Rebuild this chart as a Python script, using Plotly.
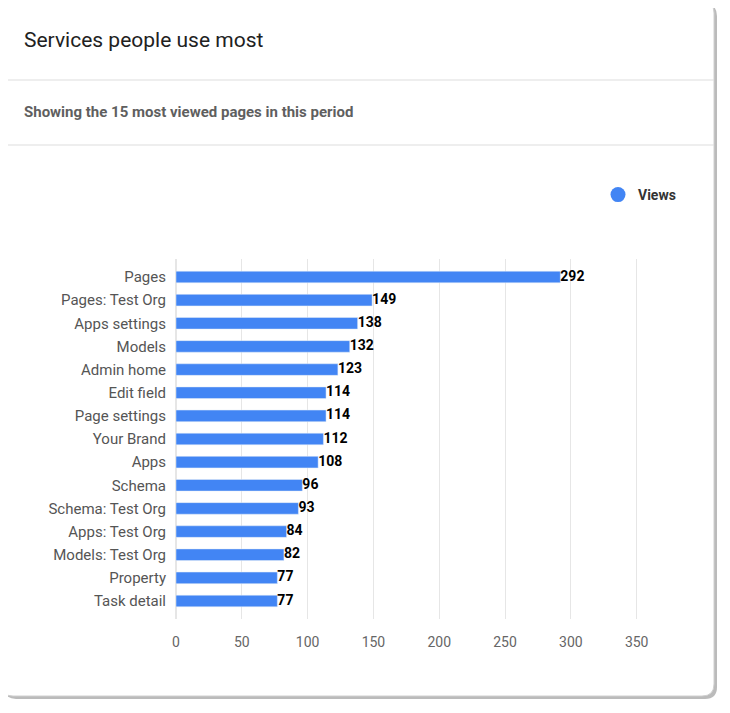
import plotly.graph_objects as go

pages = ["Pages", "Pages: Test Org", "Apps settings", "Models", "Admin home",
         "Edit field", "Page settings", "Your Brand", "Apps", "Schema",
         "Schema: Test Org", "Apps: Test Org", "Models: Test Org", "Property", "Task detail"]
views = [292, 149, 138, 132, 123, 114, 114, 112, 108, 96, 93, 84, 82, 77, 77]

W, H = 730, 713
O = 8  # page body margin
ML, MT = 176 - O, 259 - O
MR, MB = W - (663 - O), H - (619 - O)
pw, ph = W - ML - MR, H - MT - MB


def px(x):
    return (x - O - ML) / pw


def py(y):
    return (H - MB - (y - O)) / ph


def rounded(x0, y0, x1, y1, r):
    X, Y = px, py
    return (f"M {X(x0+r)} {Y(y0)} L {X(x1-r)} {Y(y0)} Q {X(x1)} {Y(y0)} {X(x1)} {Y(y0+r)} "
            f"L {X(x1)} {Y(y1-r)} Q {X(x1)} {Y(y1)} {X(x1-r)} {Y(y1)} "
            f"L {X(x0+r)} {Y(y1)} Q {X(x0)} {Y(y1)} {X(x0)} {Y(y1-r)} "
            f"L {X(x0)} {Y(y0+r)} Q {X(x0)} {Y(y0)} {X(x0+r)} {Y(y0)} Z")


fig = go.Figure()
fig.add_trace(go.Bar(x=views, y=pages, orientation="h", name="Views",
                     marker_color="#4285f4", width=0.5, showlegend=False))
# value labels
fig.add_trace(go.Scatter(x=views, y=pages, mode="text", text=[f"<b>{v}</b>" for v in views],
                         textposition="middle right", cliponaxis=False, showlegend=False,
                         textfont=dict(size=14, color="#000", family="Roboto")))
# legend marker as circle
fig.add_trace(go.Scatter(x=[None], y=[None], mode="markers", name="<b>Views</b>",
                         marker=dict(size=15, color="#4285f4")))

shapes = [
    dict(type="path", xref="paper", yref="paper", path=rounded(4, 4, 717, 699, 12),
         fillcolor="#bbbbbb", line=dict(width=0), layer="below"),
    dict(type="path", xref="paper", yref="paper", path=rounded(1, 1, 714, 696, 12),
         fillcolor="white", line=dict(color="#d0d0d0", width=1), layer="below"),
    dict(type="line", xref="paper", yref="paper", x0=px(1), x1=px(714), y0=py(80), y1=py(80),
         line=dict(color="#dddddd", width=1)),
    dict(type="line", xref="paper", yref="paper", x0=px(1), x1=px(714), y0=py(145), y1=py(145),
         line=dict(color="#dddddd", width=1)),
]

fig.update_layout(
    width=W, height=H, margin=dict(l=ML, r=MR, t=MT, b=MB),
    paper_bgcolor="white", plot_bgcolor="white",
    font=dict(family="Roboto", color="#555"),
    shapes=shapes,
    annotations=[
        dict(text="Services people use most", xref="paper", yref="paper", x=px(22), y=py(40),
             xanchor="left", yanchor="middle", showarrow=False,
             font=dict(size=21, color="#212121", family="Roboto")),
        dict(text="<b>Showing the 15 most viewed pages in this period</b>", xref="paper", yref="paper",
             x=px(22), y=py(112), xanchor="left", yanchor="middle", showarrow=False,
             font=dict(size=15, color="#5f5f5f", family="Roboto")),
    ],
    legend=dict(x=px(598), y=py(195), xanchor="left", yanchor="middle",
                font=dict(size=14, color="#333", family="Roboto"),
                bgcolor="rgba(0,0,0,0)"),
    xaxis=dict(range=[0, 370], tickvals=[0, 50, 100, 150, 200, 250, 300, 350],
               showgrid=True, gridcolor="#e6e6e6", zeroline=True, zerolinecolor="#e6e6e6",
               tickfont=dict(size=14, color="#666"), ticks="outside", ticklen=10, tickcolor="white"),
    yaxis=dict(autorange="reversed", tickfont=dict(size=15, color="#555"),
               ticks="outside", ticklen=6, tickcolor="white", showgrid=False),
)

fig.write_html("out.html")
